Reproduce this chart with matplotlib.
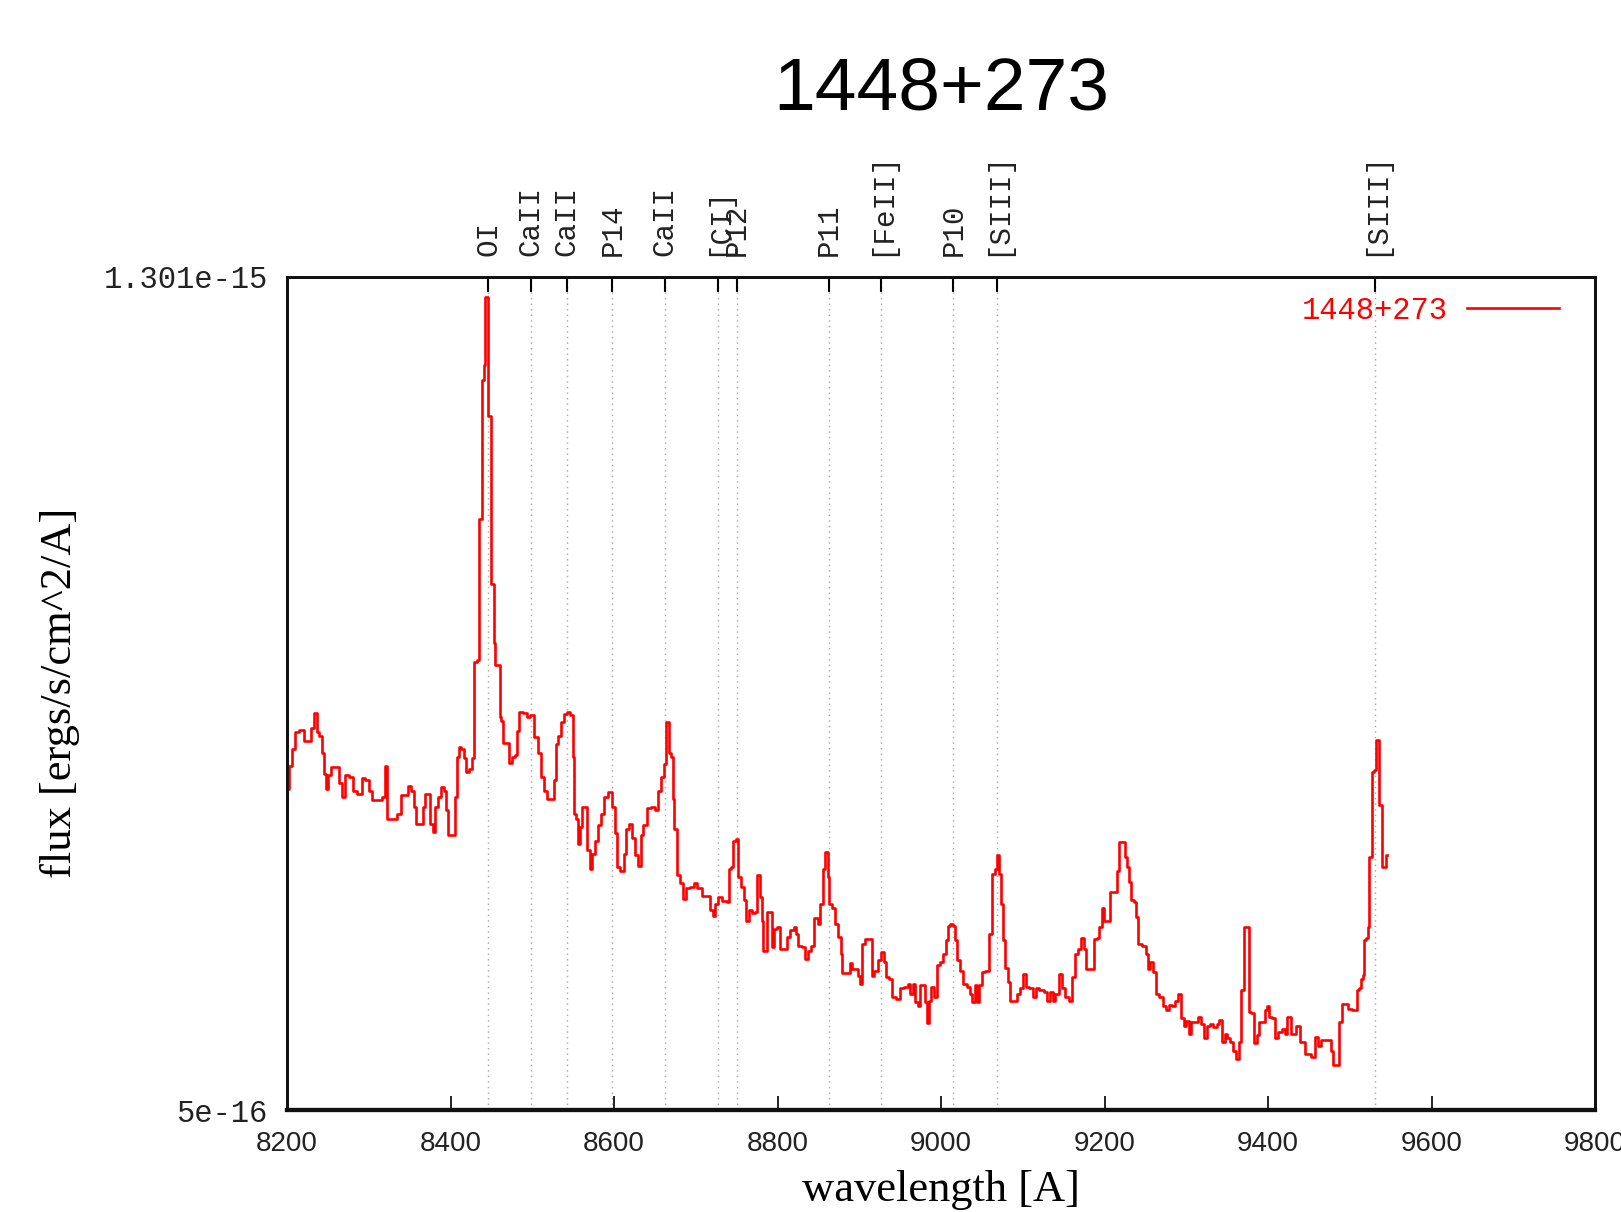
import matplotlib
matplotlib.use("Agg")
import matplotlib.pyplot as plt

# ---------------- data ----------------
title_text = "1448+273"
series_label = "1448+273"

wavelength = [
    8200.0, 8201.6, 8204.5, 8207.7, 8211.8, 8217.9, 8224.0, 8228.9, 8230.2, 8235.5,
    8238.3, 8241.2, 8243.6, 8246.5, 8249.3, 8251.8, 8255.9, 8262.8, 8265.6, 8268.9,
    8273.8, 8279.1, 8281.9, 8289.3, 8293.4, 8298.3, 8301.5, 8307.6, 8313.7, 8317.8,
    8321.1, 8322.7, 8332.1, 8336.2, 8341.5, 8346.4, 8349.6, 8353.7, 8356.6, 8359.4,
    8366.0, 8367.6, 8370.8, 8374.1, 8376.9, 8379.8, 8383.1, 8387.1, 8390.4, 8393.3,
    8395.3, 8398.6, 8404.3, 8406.7, 8408.3, 8411.6, 8414.9, 8417.7, 8420.6, 8423.8,
    8427.9,
    8429.9, 8434.0, 8434.8, 8438.1, 8438.9, 8440.9, 8441.7, 8443.0, 8445.8, 8446.6,
    8449.1, 8449.9, 8452.3, 8453.2, 8456.4, 8459.7, 8460.5, 8463.8, 8465.4, 8470.7,
    8472.7, 8476.8, 8480.0, 8482.9, 8485.8, 8491.1, 8495.1, 8500.4, 8504.5,
    8508.6, 8512.7, 8515.5, 8519.6, 8525.7, 8527.8, 8529.8, 8533.9, 8536.7, 8540.0,
    8544.1, 8548.2, 8551.0, 8552.2, 8555.1, 8557.1, 8559.6, 8562.4, 8565.7, 8568.5,
    8571.8, 8574.7, 8578.7, 8582.8, 8586.1, 8590.2, 8595.1, 8599.1, 8602.4, 8605.3,
    8610.5, 8613.4, 8616.3, 8620.7, 8623.6, 8627.7, 8631.7, 8634.2, 8637.9, 8643.2,
    8648.1, 8653.0, 8655.4, 8659.5, 8662.3, 8664.4, 8666.4, 8668.4, 8671.7, 8673.3,
    8674.6, 8678.7, 8682.7, 8686.8, 8688.8, 8697.0, 8699.0, 8703.1, 8707.2, 8709.2,
    8715.3, 8719.4, 8722.3, 8725.5, 8729.6, 8735.7, 8739.8, 8741.8, 8745.1, 8746.7,
    8750.8, 8753.3, 8757.3, 8760.2, 8763.0, 8766.3, 8770.4, 8773.6, 8775.3, 8778.5,
    8779.8, 8781.8, 8783.4, 8785.9, 8787.9, 8791.6, 8794.0, 8796.9, 8802.2, 8805.0,
    8809.1, 8813.2, 8818.5, 8821.3, 8824.2, 8826.6, 8832.4, 8835.6, 8838.9, 8843.0,
    8845.8, 8849.1, 8851.1, 8854.0, 8856.8, 8858.5, 8860.9, 8862.1, 8864.2, 8868.2,
    8872.3, 8876.4, 8878.4, 8879.7, 8887.8, 8888.6, 8892.7, 8896.8, 8900.0, 8902.9,
    8904.9, 8909.0, 8915.1, 8916.3, 8920.4, 8925.3, 8928.6, 8931.4, 8934.3, 8938.4,
    8941.6, 8947.7, 8951.8, 8957.9, 8961.2, 8964.0, 8966.9, 8970.2, 8973.4, 8976.3,
    8979.1, 8981.6, 8984.4, 8986.5, 8989.7, 8993.8, 8996.7, 9000.7, 9004.8, 9008.1,
    9010.1, 9013.0, 9015.8, 9018.3, 9021.1, 9025.2, 9029.3, 9033.4, 9037.4, 9039.5,
    9042.7, 9045.6, 9048.4, 9051.7, 9056.6, 9060.7, 9063.9, 9067.2, 9069.2, 9072.1,
    9074.1, 9077.0, 9080.3, 9083.5, 9086.4, 9090.4, 9094.5, 9098.6, 9102.7, 9105.5,
    9110.8, 9113.7, 9117.8, 9123.1, 9128.3, 9131.2, 9135.3, 9138.1, 9141.4, 9146.3,
    9149.5, 9153.6, 9158.5, 9161.8, 9165.0, 9169.9, 9173.2, 9176.0, 9178.9, 9186.2,
    9188.3, 9192.4,
    9195.3, 9197.7, 9200.6, 9205.9, 9208.7, 9214.0, 9216.9, 9219.7, 9223.0, 9226.3,
    9229.1, 9231.2, 9234.4, 9237.3, 9240.1, 9242.6, 9249.5, 9252.4, 9254.8, 9257.7,
    9261.7, 9264.6, 9269.9, 9272.7, 9276.8, 9280.9, 9284.9, 9288.2, 9292.3, 9295.6,
    9298.4, 9301.3, 9304.5, 9307.8, 9312.7, 9316.8, 9320.0, 9322.9, 9327.0, 9331.0,
    9335.1, 9339.2, 9342.0, 9345.3, 9348.6, 9351.4, 9355.5, 9359.6, 9362.4, 9365.7,
    9369.0, 9371.8, 9375.9, 9377.1, 9382.0, 9384.1, 9388.1, 9391.0, 9394.2, 9397.5,
    9400.4, 9403.2, 9407.3, 9410.5, 9414.6, 9418.7, 9422.8, 9424.8,
    9431.0, 9437.1, 9442.4, 9449.3, 9455.4, 9458.7, 9462.8, 9466.9, 9475.8, 9479.1,
    9480.7, 9486.0, 9487.2, 9490.1, 9491.3, 9496.2, 9500.3, 9505.2, 9508.4, 9510.5,
    9513.3, 9514.6, 9517.4, 9518.6, 9521.5, 9522.7, 9524.8, 9526.8, 9528.0, 9530.9,
    9532.1, 9535.0, 9536.2, 9539.0, 9540.2, 9543.1, 9545.2,
]

# flux in units of 1e-16 ergs/s/cm^2/A
flux_e16 = [
    8.23, 8.09, 8.31, 8.47, 8.63, 8.65, 8.55, 8.55, 8.67, 8.82,
    8.63, 8.60, 8.43, 8.23, 8.09, 8.22, 8.30, 8.30, 8.14, 8.01,
    8.22, 8.20, 8.07, 8.04, 8.19, 8.17, 8.07, 7.98, 7.98, 8.01,
    8.31, 7.80, 7.80, 7.85, 8.03, 8.03, 8.12, 8.07, 7.91, 7.75,
    7.75, 7.91, 8.04, 8.04, 7.75, 7.67, 7.91, 8.01, 8.11, 8.07,
    7.88, 7.64, 7.64, 8.01, 8.39, 8.49, 8.47, 8.38, 8.25, 8.28,
    8.38,
    9.31, 9.33, 10.68, 10.68, 12.02, 12.02, 12.16, 12.82, 12.82, 11.67,
    11.67, 10.06, 10.06, 9.49, 9.28, 9.28, 8.78, 8.74, 8.53, 8.53,
    8.34, 8.39, 8.41, 8.64, 8.83, 8.82, 8.78, 8.80, 8.59,
    8.43, 8.20, 8.07, 7.99, 7.99, 8.17, 8.52, 8.60, 8.73, 8.81,
    8.83, 8.80, 8.39, 7.85, 7.80, 7.56, 7.72, 7.91, 7.91, 7.50,
    7.32, 7.46, 7.59, 7.74, 7.85, 8.01, 8.06, 7.91, 7.66, 7.34,
    7.30, 7.46, 7.70, 7.75, 7.62, 7.45, 7.35, 7.64, 7.74, 7.90,
    7.91, 7.88, 8.07, 8.20, 8.33, 8.73, 8.73, 8.43, 8.39, 7.99,
    7.70, 7.26, 7.18, 7.03, 7.13, 7.14, 7.18, 7.13, 7.13, 7.06,
    7.06, 6.92, 6.87, 6.98, 7.05, 7.01, 7.00, 7.32, 7.34, 7.59,
    7.61, 7.24, 7.14, 7.02, 6.82, 6.92, 6.89, 6.90, 7.26, 7.26,
    7.05, 6.82, 6.53, 6.53, 6.90, 6.90, 6.57, 6.74, 6.76, 6.55,
    6.55, 6.66, 6.73, 6.76, 6.69, 6.58, 6.57, 6.45, 6.53, 6.58,
    6.85, 6.85, 6.79, 6.98, 7.32, 7.48, 7.48, 7.24, 6.98, 6.94,
    6.79, 6.66, 6.50, 6.32, 6.32, 6.41, 6.36, 6.36, 6.29, 6.21,
    6.60, 6.64, 6.64, 6.29, 6.34, 6.44, 6.52, 6.42, 6.28, 6.26,
    6.09, 6.07, 6.17, 6.18, 6.21, 6.12, 6.21, 6.04, 6.00, 6.20,
    6.20, 6.04, 5.84, 6.05, 6.18, 6.09, 6.39, 6.42, 6.50, 6.63,
    6.77, 6.79, 6.77, 6.63, 6.44, 6.34, 6.21, 6.18, 6.12, 6.04,
    6.20, 6.04, 6.20, 6.33, 6.34, 6.69, 7.27, 7.32, 7.45, 7.27,
    6.98, 6.63, 6.37, 6.23, 6.05, 6.05, 6.12, 6.17, 6.31, 6.18,
    6.17, 6.09, 6.17, 6.15, 6.13, 6.05, 6.13, 6.05, 6.12, 6.31,
    6.17, 6.09, 6.05, 6.28, 6.50, 6.55, 6.65, 6.55, 6.36, 6.36,
    6.64, 6.65,
    6.76, 6.94, 6.82, 6.82, 7.10, 7.10, 7.30, 7.58, 7.58, 7.43,
    7.34, 7.19, 7.02, 7.00, 6.86, 6.60, 6.58, 6.50, 6.36, 6.42,
    6.33, 6.12, 6.09, 6.00, 5.96, 6.01, 6.00, 6.05, 6.12, 5.88,
    5.81, 5.86, 5.73, 5.85, 5.85, 5.89, 5.83, 5.69, 5.81, 5.83,
    5.80, 5.83, 5.87, 5.65, 5.73, 5.69, 5.65, 5.57, 5.49, 5.65,
    6.15, 6.76, 6.76, 5.94, 5.93, 5.64, 5.72, 5.85, 5.85, 5.96,
    6.00, 5.89, 5.88, 5.69, 5.75, 5.78, 5.73, 5.89,
    5.73, 5.81, 5.65, 5.54, 5.51, 5.70, 5.62, 5.67, 5.67, 5.57,
    5.43, 5.43, 5.85, 5.85, 6.02, 6.02, 5.97, 5.96, 5.96, 6.15,
    6.17, 6.26, 6.30, 6.63, 6.65, 6.76, 7.43, 7.43, 8.25, 8.27,
    8.56, 8.56, 7.93, 7.93, 7.34, 7.34, 7.45,
]
flux_unit = 1e-16

line_wl = [8446, 8498, 8542, 8598, 8662, 8727, 8750, 8863, 8927, 9015, 9069, 9531]
line_names = ["OI", "CaII", "CaII", "P14", "CaII", "[CI]", "P12", "P11",
              "[FeII]", "P10", "[SIII]", "[SIII]"]

x_ticks = [8200, 8400, 8600, 8800, 9000, 9200, 9400, 9600, 9800]
y_ticks = [5e-16, 1.301e-15]
y_tick_labels = ["5e-16", "1.301e-15"]
x_range = (8200, 9800)

# ---------------- figure ----------------
W, H = 1621, 1212
fig = plt.figure(figsize=(W / 100, H / 100), dpi=100)
fig.patch.set_facecolor("white")

ax_l, ax_r, ax_t, ax_b = 287, 1595, 277, 1110
ax = fig.add_axes([ax_l / W, 1 - ax_b / H, (ax_r - ax_l) / W, (ax_b - ax_t) / H])

flux = [v * flux_unit for v in flux_e16]
ax.plot(wavelength, flux, color="#ff0000", lw=1.9, label=series_label,
        drawstyle="steps-mid", zorder=3)

for w in line_wl:
    ax.axvline(w, color="#a8a8a8", lw=1.0, ls=(0, (1, 3)), zorder=1)

ax.set_xlim(*x_range)
ax.set_ylim(y_ticks[0], y_ticks[1])

mono = "Liberation Mono"
ax.set_xticks(x_ticks)
ax.set_xticklabels([str(t) for t in x_ticks], family="Liberation Sans",
                   fontsize=20, color="#222222")
ax.set_yticks(y_ticks)
ax.set_yticklabels(y_tick_labels, family=mono, fontsize=22, color="#222222")
ax.tick_params(axis="x", direction="in", length=10, width=1.2, pad=15,
               bottom=True, top=False)
ax.tick_params(axis="y", direction="in", length=10, width=1.2, pad=14,
               left=True, right=True)

for s in ax.spines.values():
    s.set_linewidth(2.0)
    s.set_color("#111111")
ax.spines["bottom"].set_linewidth(3.0)

# top axis with spectral-line markers
ax2 = ax.twiny()
ax2.set_xlim(*x_range)
ax2.set_xticks(line_wl)
ax2.set_xticklabels(line_names, rotation=90, family=mono, fontsize=21,
                    color="#222222")
ax2.tick_params(axis="x", direction="in", length=11, width=1.5, pad=15)
for s in ax2.spines.values():
    s.set_linewidth(2.0)
    s.set_color("#111111")
ax2.spines["bottom"].set_linewidth(3.0)

# legend
ax_w_px = ax_r - ax_l
ax_h_px = ax_b - ax_t
leg = ax.legend(loc="upper right",
                bbox_to_anchor=(1 - 36 / ax_w_px, 1 - 19 / ax_h_px),
                frameon=False, markerfirst=False, handlelength=3.0,
                handletextpad=0.65, borderpad=0, borderaxespad=0,
                prop={"family": mono, "size": 22}, labelcolor="#ff0000")

# title and axis labels
fig.text(941 / W, 1 - 90 / H, title_text, fontsize=54, family="Liberation Sans",
         ha="center", va="center", color="black")
fig.text(941 / W, 11 / H, "wavelength [A]", fontsize=32, family="Liberation Serif",
         ha="center", va="baseline", color="black")
fig.text(60 / W, 1 - 693 / H, "flux [ergs/s/cm^2/A]", fontsize=32,
         family="Liberation Serif", rotation=90, ha="center", va="center",
         color="black")

fig.savefig("out.png", dpi=100, facecolor="white")
